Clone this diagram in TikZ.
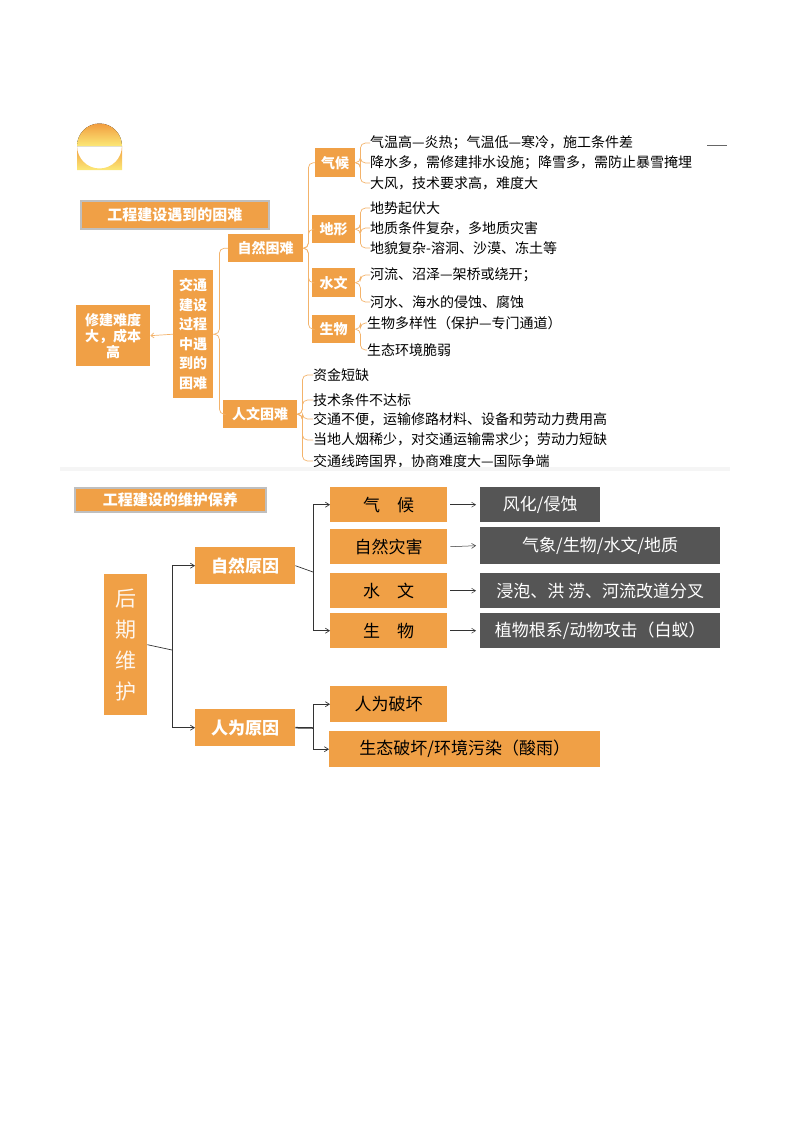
\documentclass[tikz,border=0pt]{standalone}
\usepackage{fontspec}
\setmainfont{Noto Sans CJK SC}
\usetikzlibrary{arrows.meta}
\definecolor{org}{RGB}{240,160,70}
\definecolor{dk}{RGB}{85,85,85}
\begin{document}
\begin{tikzpicture}[x=1pt,y=-1pt,
  ob/.style={fill=org,text=white,font=\fontsize{14}{16}\selectfont\bfseries,inner sep=0pt,anchor=north west},
  leaf/.style={anchor=west,inner sep=0pt,font=\fontsize{14}{16}\selectfont},
  br/.style={draw=org!80,line width=0.7pt,rounded corners=5pt},
  bb/.style={fill=org,font=\fontsize{17}{20}\selectfont,inner sep=0pt,anchor=north west},
  db/.style={fill=dk,text=white,font=\fontsize{17}{20}\selectfont,inner sep=0pt,anchor=north west},
  ln/.style={draw=black!80,line width=0.7pt},
  ar/.style={ln,-{Straight Barb[length=4pt,width=5pt]}},
  ttl/.style={fill=org,text=white,font=\fontsize{15}{17}\selectfont\bfseries,inner sep=0pt,anchor=north west,draw=black!25,line width=1.5pt}]
\useasboundingbox (0,0) rectangle (800,1132);
% drop shape
\shade[top color=org!90!orange,bottom color=org!40!yellow!60] (77,170) -- (77,146) arc[start angle=180,end angle=0,radius=22.5] -- (122,170) -- cycle;
\fill[top color=org!90!orange,bottom color=org!40!yellow!60] (77,146) arc[start angle=180,end angle=360,radius=22.5] -- cycle;
\draw[black!60,line width=1pt] (707,145) -- (727,145);
% titles
\node[ttl,minimum width=188pt,minimum height=28pt] (t1) at (80,200) {工程建设遇到的困难};
\node[ttl,minimum width=191pt,minimum height=24pt] (t2) at (74,487) {工程建设的维护保养};
% top section
\node[ob,minimum width=74pt,minimum height=61pt,align=center] (xj) at (76,305) {修建难度\\大，成本\\高};
\node[ob,minimum width=40pt,minimum height=128pt,align=center,font=\fontsize{14}{19.5}\selectfont\bfseries] (jt) at (173,270) {交通\\建设\\过程\\中遇\\到的\\困难};
\draw[br,-{Straight Barb[length=3pt,width=5pt]}] (jt.west) -- (xj.east);
\node[ob,minimum width=75pt,minimum height=28pt] (zr) at (228,234) {自然困难};
\node[ob,minimum width=74pt,minimum height=28pt] (rw) at (223,400) {人文困难};
\draw[br] (jt.east) -- ++(6,0) |- (zr.west);
\draw[br] (jt.east) -- ++(6,0) |- (rw.west);
\node[ob,minimum width=40pt,minimum height=29pt] (qh) at (315,148) {气候};
\node[ob,minimum width=43pt,minimum height=28pt] (dx) at (312,215) {地形};
\node[ob,minimum width=43pt,minimum height=29pt] (sw) at (312,268) {水文};
\node[ob,minimum width=43pt,minimum height=28pt] (sv) at (312,315) {生物};
\foreach \c in {qh,dx,sw,sv} \draw[br] (zr.east) -- ++(5,0) |- (\c.west);
% leaves
\node[leaf] (q1) at (370,143) {气温高—炎热；气温低—寒冷，施工条件差};
\node[leaf] (q2) at (370,163) {降水多，需修建排水设施；降雪多，需防止暴雪掩埋};
\node[leaf] (q3) at (370,183) {大风，技术要求高，难度大};
\node[leaf] (d1) at (370,208) {地势起伏大};
\node[leaf] (d2) at (370,228) {地质条件复杂，多地质灾害};
\node[leaf] (d3) at (370,248) {地貌复杂-溶洞、沙漠、冻土等};
\node[leaf] (s1) at (370,275) {河流、沼泽—架桥或绕开；};
\node[leaf] (s2) at (370,302) {河水、海水的侵蚀、腐蚀};
\node[leaf] (b1) at (367,323) {生物多样性（保护—专门通道）};
\node[leaf] (b2) at (367,350) {生态环境脆弱};
\foreach \p/\l in {qh/q1,qh/q2,qh/q3,dx/d1,dx/d2,dx/d3,sw/s1,sw/s2,sv/b1,sv/b2}
  \draw[br] (\p.east) -- ++(5,0) |- (\l.west);
\node[leaf] (r1) at (313,375) {资金短缺};
\node[leaf] (r2) at (313,400) {技术条件不达标};
\node[leaf] (r3) at (313,419) {交通不便，运输修路材料、设备和劳动力费用高};
\node[leaf] (r4) at (313,440) {当地人烟稀少，对交通运输需求少；劳动力短缺};
\node[leaf] (r5) at (313,461) {交通线跨国界，协商难度大—国际争端};
\foreach \l in {r1,r2,r3,r4,r5} \draw[br] (rw.east) -- ++(5,0) |- (\l.west);
\fill[black!4] (60,467) rectangle (730,471);
% bottom section
\node[bb,text=white!92!org,minimum width=43pt,minimum height=141pt,align=center,font=\fontsize{21}{31}\selectfont] (hq) at (104,574) {后\\期\\维\\护};
\node[bb,text=white,font=\fontsize{17}{20}\selectfont\bfseries,minimum width=100pt,minimum height=37pt] (zy) at (195,547) {自然原因};
\node[bb,text=white,font=\fontsize{17}{20}\selectfont\bfseries,minimum width=100pt,minimum height=37pt] (ry) at (195,709) {人为原因};
\coordinate (j1) at (172,650);
\draw[ln] (hq.east) -- (j1);
\draw[ar] (j1) |- (zy.west);
\draw[ar] (j1) |- (ry.west);
\node[bb,minimum width=117pt,minimum height=35pt] (c1) at (330,487) {气\quad 候};
\node[bb,minimum width=117pt,minimum height=35pt] (c2) at (330,529) {自然灾害};
\node[bb,minimum width=117pt,minimum height=35pt] (c3) at (330,573) {水\quad 文};
\node[bb,minimum width=117pt,minimum height=35pt] (c4) at (330,613) {生\quad 物};
\coordinate (j2) at (313,572);
\draw[ln] (zy.east) -- (j2);
\draw[ar] (j2) |- (c1.west);
\draw[ar] (j2) |- (c4.west);
\node[db,minimum width=120pt,minimum height=35pt] (e1) at (480,487) {风化/侵蚀};
\node[db,minimum width=240pt,minimum height=37pt] (e2) at (480,527) {气象/生物/水文/地质};
\node[db,minimum width=240pt,minimum height=35pt] (e3) at (480,573) {浸泡、洪 涝、河流改道分叉};
\node[db,minimum width=240pt,minimum height=35pt] (e4) at (480,613) {植物根系/动物攻击（白蚁）};
\foreach \i in {1,2,3,4} \draw[ar,line width=0.5pt] ([xshift=3pt]c\i.east) -- ([xshift=-4pt]e\i.west);
\node[bb,minimum width=117pt,minimum height=36pt] (h1) at (330,686) {人为破坏};
\node[bb,minimum width=271pt,minimum height=36pt] (h2) at (329,731) {生态破坏/环境污染（酸雨）};
\coordinate (j3) at (313,728);
\draw[ln,line width=1.5pt] (ry.east) -- (j3);
\draw[ar] (j3) |- (h1.west);
\draw[ar] (j3) |- (h2.west);
\end{tikzpicture}
\end{document}
